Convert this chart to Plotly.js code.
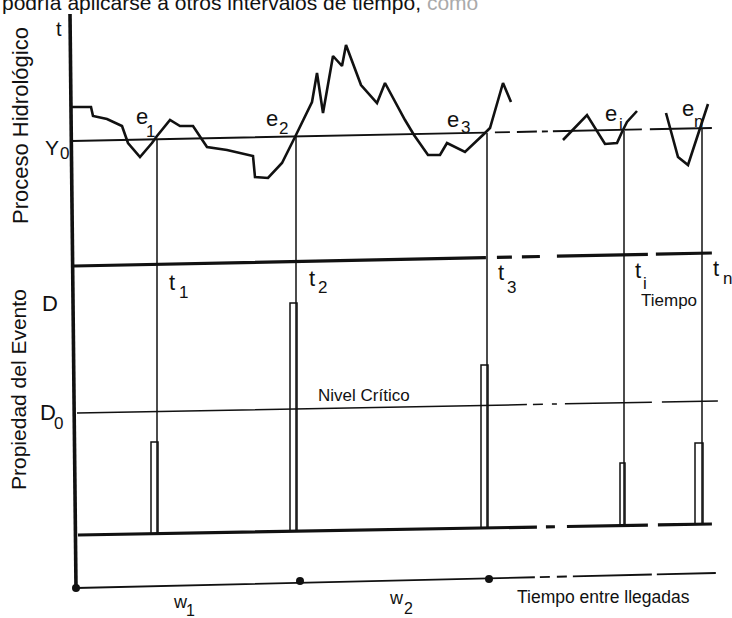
<!DOCTYPE html>
<html>
<head>
<meta charset="utf-8">
<script src="https://cdn.plot.ly/plotly-3.0.1.min.js"></script>
<style>html,body{margin:0;padding:0;background:#fff;}#chart{width:732px;height:618px;}</style>
</head>
<body>
<div id="chart"></div>
<script>
// ---- Hydrological process (time, level) : segments of the drawn record ----
const procTimeA  = [72,91,93,107,122,128,140,152,157,170,180,193,207,227,253,255,268,282,295,312,317,323,333,342,346,361,377,385,405,414,428,440,447,465,485,490,503,511];
const procLevelA = [511,511,502,499,492,475,461,475,482,498,492,492,471,468,462,441,440,455,481,516,545,505,562,552,573,533,515,535,498,483,463,463,475,466,485,490,535,516];
const procTimeI  = [563,587,605,617,622,627,637];
const procLevelI = [478,503,474,475,486,496,507];
const procTimeN  = [666,678,688,695,700,708];
const procLevelN = [505,461,453,475,490,514];

// ---- Reference levels (start/end of each drawn line) ----
const thresholdX = [72,712],  thresholdY = [477,490];   // Y0
const timeAxisX  = [74,712],  timeAxisY  = [352,365];   // Tiempo
const criticalX  = [77,718],  criticalY  = [205,217];   // D0 Nivel Crítico
const baselineX  = [78,712],  baselineY  = [83,94];     // event baseline
const interX     = [76,716],  interY     = [30,45];     // Tiempo entre llegadas
const mainAxisX  = [70,76],   mainAxisY  = [604,30];

// ---- Events ----
const eventNames    = ["1","2","3","i","n"];
const eventTimes    = [157,296,487,624,702];
const eventCross    = [478,481,485,487,489];   // level where process crosses Y0
const eventBase     = [84,87,90,92,93];        // baseline level under each event
const eventMagnitude= [176,315,253,155,175];   // top of each event bar
const arrivalTimes  = [76,300,489];
const arrivalLevels = [30,37,39];

const K = '#111';
const FONT = 'Liberation Sans, Arial, Helvetica, sans-serif';
const traces = [];

function seg(x, y, w, dash) {
  traces.push({type:'scatter', mode:'lines', x:x, y:y, hoverinfo:'skip',
    line:{color:K, width:w, dash:dash||'solid'}});
}

// process curve
seg(procTimeA, procLevelA, 2.6);
seg(procTimeI, procLevelI, 2.6);
seg(procTimeN, procLevelN, 2.6);

// horizontal reference lines (with the broken parts of the drawing)
seg(thresholdX, thresholdY, 1.9, '414px,9px,15px,7px,20px,5px,6px,5px,89px,8px,62px,40px');
seg(timeAxisX, timeAxisY, 3.2, '412px,11px,15px,10px,18px,17px,91px,8px,56px,40px');
seg(criticalX, criticalY, 1.5, '450px,6px,10px,9px,5px,8px,87px,10px,56px,40px');
seg(baselineX, baselineY, 3.2, '459px,9px,9px,12px,81px,10px,54px,40px');
seg(interX, interY, 1.8, '459px,5px,10px,7px,10px,6px,79px,5px,59px,40px');
seg(mainAxisX, mainAxisY, 3.6);

// event verticals
const vx = [], vy = [];
eventTimes.forEach((t,i)=>{ vx.push(t,t,null); vy.push(eventCross[i], eventBase[i], null); });
seg(vx, vy, 1.5);

// event bars (outlined)
const barW = [6,6,6,4,7];
const bx = [], by = [];
eventTimes.forEach((t,i)=>{
  const l = t - barW[i], r = t + 1;
  bx.push(l, l, r, r, null);
  by.push(eventBase[i], eventMagnitude[i], eventMagnitude[i], eventBase[i], null);
});
seg(bx, by, 1.5);

// arrival dots
traces.push({type:'scatter', mode:'markers', x:arrivalTimes, y:arrivalLevels, hoverinfo:'skip',
  marker:{color:K, size:8}});

// ---- Labels ----
const ann = [];
function lbl(text, x, y, size, extra) {
  ann.push(Object.assign({text:text, x:x, y:y, xref:'x', yref:'y', showarrow:false,
    xanchor:'center', yanchor:'middle', font:{family:FONT, size:size, color:K}}, extra||{}));
}
lbl('podría aplicarse a otros intervalos de tiempo, <span style="color:#aaa">como</span>', 0, 616, 21, {xanchor:'left'});
lbl('t', 59, 589, 20);
lbl('Proceso Hidrológico', 20, 492, 22, {textangle:-90});
lbl('Propiedad del Evento', 18, 228, 21, {textangle:-90});
lbl('Y', 52, 471, 21); lbl('0', 64, 465, 17);
lbl('D', 50, 315, 22);
lbl('D', 48, 206, 22); lbl('0', 58, 195, 17);
lbl('Nivel Crítico', 364, 223, 17);
lbl('Tiempo', 669, 318, 17);
lbl('Tiempo entre llegadas', 603, 21, 17.5);
lbl('w', 180, 16, 18); lbl('1', 190, 8, 16);
lbl('w', 396, 20, 18); lbl('2', 408, 10, 16);

const eLab = [[142,502,150,487],[272,500,283,490],[453,499,465,491],[611,505,621,494],[688,510,698,497]];
const tLab = [[172,336,183,326],[312,340,322,331],[501,346,511,331],[638,348,645,335],[716,350,727,340]];
eventNames.forEach((n,i)=>{
  lbl('e', eLab[i][0], eLab[i][1], 22); lbl(n, eLab[i][2], eLab[i][3], 17);
  lbl('t', tLab[i][0], tLab[i][1], 22); lbl(n, tLab[i][2], tLab[i][3], 17);
});

const layout = {
  width:732, height:618,
  margin:{l:0,r:0,t:0,b:0},
  paper_bgcolor:'#fff', plot_bgcolor:'#fff',
  showlegend:false,
  xaxis:{range:[0,732], visible:false, fixedrange:true},
  yaxis:{range:[0,618], visible:false, fixedrange:true},
  annotations:ann
};
Plotly.newPlot('chart', traces, layout, {staticPlot:true, displayModeBar:false});
</script>
</body>
</html>
